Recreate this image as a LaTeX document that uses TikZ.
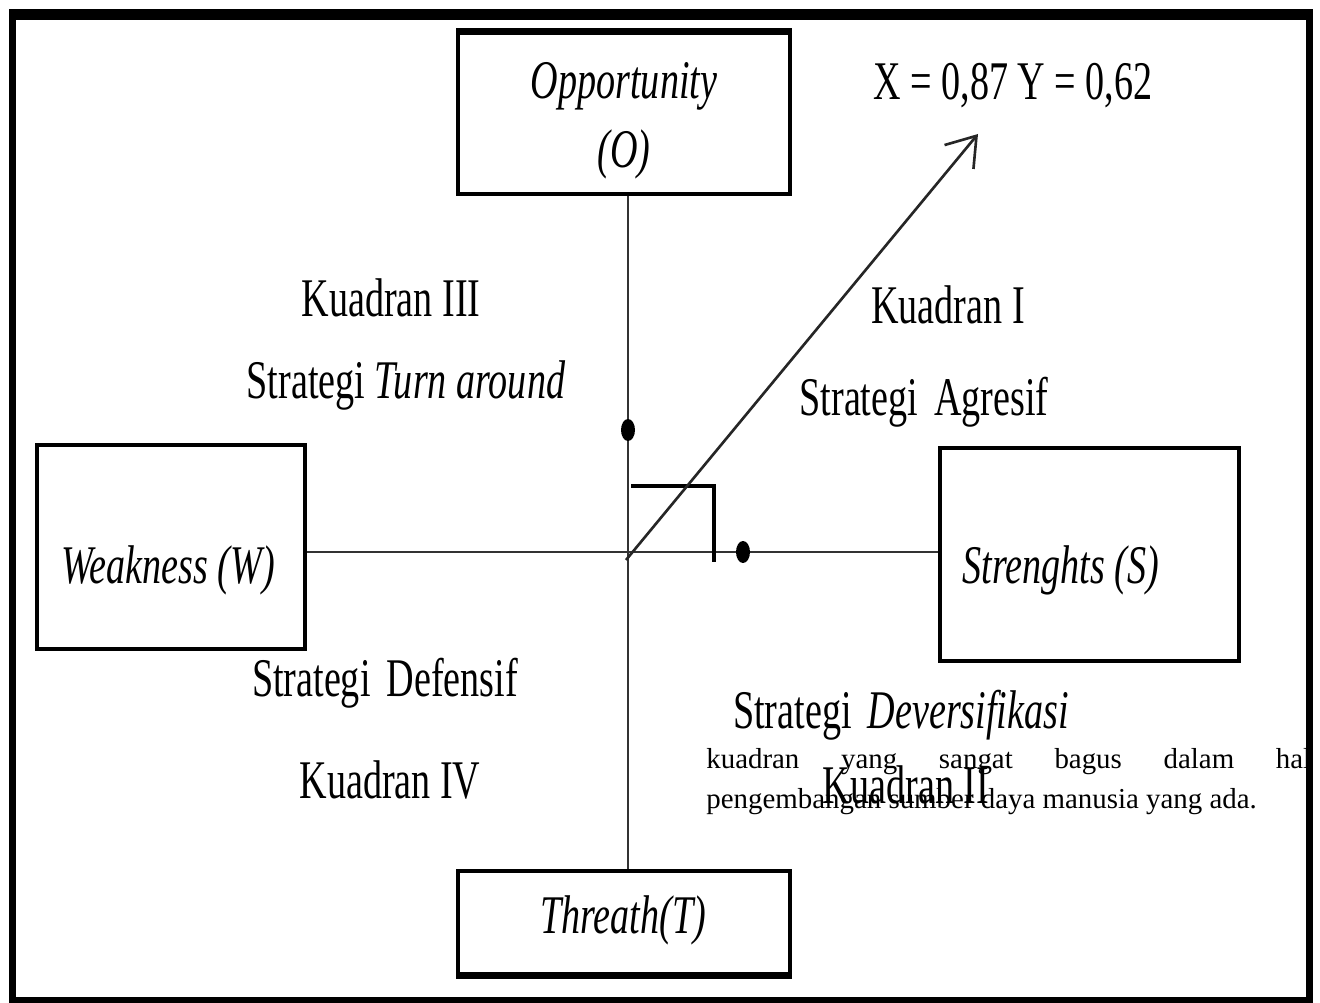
\documentclass[tikz,border=0pt]{standalone}
\usepackage{fontspec}
\setmainfont{Liberation Serif}
\newfontfamily\narrowfont[FakeStretch=0.7]{Liberation Serif}
\usetikzlibrary{shapes.geometric,arrows.meta}
\tikzstyle{txt} = [inner sep=0pt, font=\narrowfont\fontsize{31}{38}\selectfont]
\tikzstyle{box} = [draw, line width=2.2pt, inner sep=0pt]
\tikzstyle{axis} = [line width=1.1pt, black!80]
\tikzstyle{dot} = [ellipse, fill, inner sep=0pt, minimum width=0.28cm, minimum height=0.44cm]
\tikzstyle{rightmark} = [line width=2.4pt]

\begin{document}
\begin{tikzpicture}[x=0.02cm,y=-0.02cm]
	  \useasboundingbox (0,0) rectangle (1320,1003);
	  \coordinate (o) at (628,552);

	  \node (opp) at (624,113.5) [box, minimum width=6.64cm, minimum height=3.22cm] {};
	  \node (thr) at (624,922.5) [box, minimum width=6.64cm, minimum height=2.06cm] {};
	  \node (weak) at (171,547) [box, minimum width=5.36cm, minimum height=4.08cm] {};
	  \node (str) at (1089.5,554.5) [box, minimum width=5.98cm, minimum height=4.26cm] {};
	  \draw [line width=4pt] (opp.north west) -- (opp.north east);
	  \draw [line width=4pt] (thr.south west) -- (thr.south east);

	  \node (opptxt) at (624,86) [txt] {\itshape Opportunity};
	  \node (opptxt2) at (624,154) [txt] {\itshape (O)};
	  \node (thrtxt) at (623,920) [txt] {\itshape Threath(T)};
	  \node (weaktxt) at (168,570) [txt] {\itshape Weakness (W)};
	  \node (strtxt) at (1061,570) [txt] {\itshape Strenghts (S)};
	  \node (xy) at (1013,86) [txt] {X = 0,87 Y = 0,62};

	  \node (k3) at (391,298) [txt] {Kuadran III};
	  \node (s3) at (406,385) [txt] {Strategi \textit{Turn around}};
	  \node (k1) at (948,305) [txt] {Kuadran I};
	  \node (s1) at (924,402) [txt] {Strategi\hspace{0.12em} Agresif};
	  \node (s4) at (385,683) [txt] {Strategi\hspace{0.12em} Defensif};
	  \node (k4) at (390,780) [txt] {Kuadran IV};
	  \node (s2) at (901,715) [txt] {Strategi\hspace{0.12em} \textit{Deversifikasi}};
	  \node (k2) at (906,785) [txt] {Kuadran II};

	  \draw [axis] (opp.south -| o) -- (thr.north -| o);
	  \draw [axis] (weak.east |- o) -- (str.west |- o);

	  \node (dy) at (628,430) [dot] {};
	  \node (dx) at (743,552) [dot] {};

	  \coordinate (m1) at (631,486);
	  \coordinate (m2) at (714,486);
	  \coordinate (m3) at (714,562);
	  \draw [rightmark] (m1) -- (m2) -- (m3);

	  \coordinate (tail) at (626,560);
	  \coordinate (tip) at (978,134);
	  \draw [line width=1.5pt, black!85, -{Straight Barb[length=0.55cm, width=0.75cm, line width=1.5pt]}] (tail) -- (tip);

	  \node (para) at (706,768) [anchor=base west, inner sep=0pt, text width=12.1cm, align=justify,
	    font=\fontsize{16.45}{22.8}\selectfont]
	    {\hbadness=10000 kuadran yang sangat bagus dalam hal\linebreak pengembangan sumber daya manusia yang ada.};

	  \draw [line width=0.14cm] (12.5,14.5) rectangle (1309,1000.5);
	  \draw [line width=0.22cm] (9,14.5) -- (1313,14.5);
\end{tikzpicture}
\end{document}
